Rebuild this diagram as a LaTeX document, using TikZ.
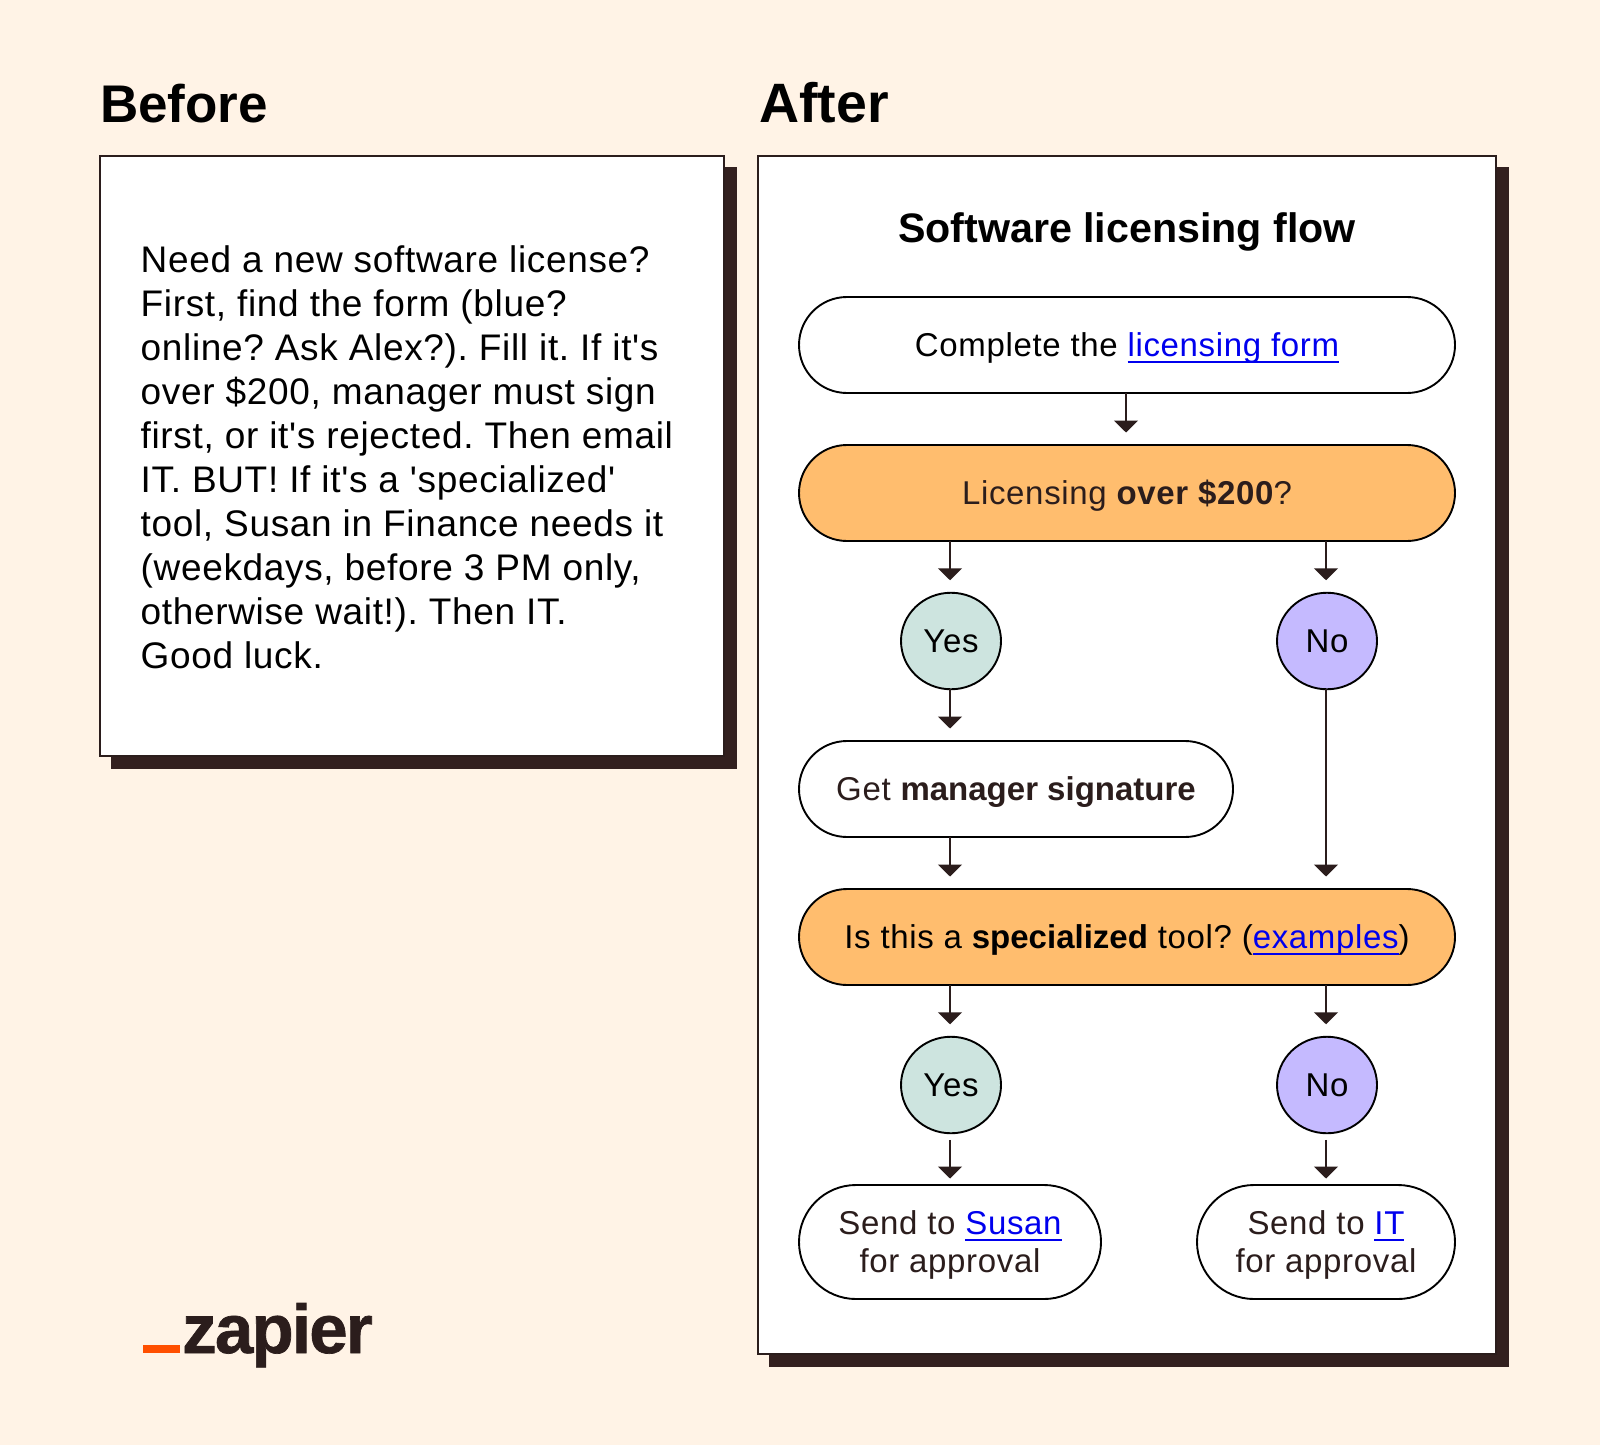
\documentclass[tikz,border=0pt]{standalone}
\usepackage{fontspec}
\setmainfont{Liberation Sans}
\usetikzlibrary{arrows.meta,shapes.misc,shapes.geometric}
\definecolor{bgc}{HTML}{FFF3E6}
\definecolor{ink}{HTML}{2B1D1C}
\definecolor{shadowc}{HTML}{33201F}
\definecolor{orangec}{HTML}{FFBD6E}
\definecolor{greenc}{HTML}{CDE4DF}
\definecolor{purplec}{HTML}{C5BAFF}
\definecolor{logoc}{HTML}{FF4F00}
\definecolor{linkc}{HTML}{0000EE}
\newcommand\lnk[1]{\textcolor{linkc}{\setbox0\hbox{#1}\rlap{\raisebox{-6.5pt}{\rule{\wd0}{1.6pt}}}\box0}}
\newfontfamily\bodyf[LetterSpace=2.0]{Liberation Sans}
\newfontfamily\textf[LetterSpace=1.8]{Liberation Sans}
\newfontfamily\plainf{Liberation Sans}
\newfontfamily\logof[LetterSpace=-2.6,BoldFeatures={FakeBold=1}]{Liberation Sans}
\newcommand\fs[2]{\fontsize{#1}{#2}\selectfont}
\newcommand\bt[1]{{\plainf\bfseries #1}}
\newcommand\dn{\rule{0pt}{30pt}}
\frenchspacing
\tikzset{
  x=1pt,y=-1pt,
  pill/.style={draw=black,line width=1.9pt,rounded rectangle,outer sep=0pt,inner sep=0pt,text=ink,font=\bodyf\frenchspacing\fs{33}{38},align=center},
  whitepill/.style={pill,fill=white},
  orangepill/.style={pill,fill=orangec},
  circ/.style={draw=black,line width=1.9pt,ellipse,outer sep=0pt,inner sep=0pt,minimum width=100pt,minimum height=96.5pt,text=black,font=\bodyf\fs{33}{38}},
  yescirc/.style={circ,fill=greenc},
  nocirc/.style={circ,fill=purplec},
  panel/.style={draw=ink,line width=1.9pt,fill=white,rectangle,outer sep=0pt,inner sep=0pt},
  panelshadow/.style={fill=shadowc,draw=none,rectangle,outer sep=0pt,inner sep=0pt},
  flow/.style={draw=ink,line width=1.9pt,-{Triangle[width=24pt,length=12pt]},shorten >=12.5pt},
  flowgap/.style={flow,shorten >=6.5pt,shorten <=6.5pt},
  heading/.style={anchor=base west,inner sep=0pt,text=black}
}
\begin{document}
\begin{tikzpicture}
\useasboundingbox (0,0) rectangle (1600,1445);
\fill[bgc] (0,0) rectangle (1600,1445);
% headings
\node[heading,font=\fs{53}{60}\bfseries] (hbefore) at (100,122) {Before};
\node[heading,font=\fs{55.5}{60}\bfseries] (hafter) at (759,122) {After};
% panels
\node[panelshadow,minimum width=626pt,minimum height=602pt] (s1) at (424,468) {};
\node[panel,minimum width=624pt,minimum height=600pt] (before) at (412,456) {};
\node[panelshadow,minimum width=740pt,minimum height=1200pt] (s2) at (1139,767) {};
\node[panel,minimum width=738pt,minimum height=1198pt] (after) at (1127,755) {};
% before text
\node[anchor=north west,inner sep=0pt,align=left,font=\textf\frenchspacing\fs{37}{44},text=black] (beforetext) at (140.5,245) {Need a new software license?\\
First, find the form (blue?\\
online? Ask Alex?). Fill it. If it's\\
over \$200, manager must sign\\
first, or it's rejected. Then email\\
IT. BUT! If it's a 'specialized'\\
tool, Susan in Finance needs it\\
(weekdays, before 3 PM only,\\
otherwise wait!). Then IT.\\
Good luck.};
% title
\node[anchor=base,inner sep=0pt,font=\fs{41.2}{46}\bfseries,text=black] (title) at (1127,242) {Software licensing flow};
% flow
\node[whitepill,minimum width=656pt,minimum height=96pt] (form) at (1127,345) {\dn\textcolor{black}{Complete the} \lnk{licensing form}};
\node[orangepill,minimum width=656pt,minimum height=96pt] (q1) at (1127,493) {\dn Licensing {\bfseries over \$200}?};
\node[yescirc] (y1) at (951,641) {Yes};
\node[nocirc] (n1) at (1327,641) {No};
\node[whitepill,minimum width=434pt,minimum height=96pt] (sig) at (1016,789) {\dn Get \bt{manager signature}};
\node[orangepill,minimum width=656pt,minimum height=96pt] (q2) at (1127,937) {\dn\textcolor{black}{Is this a \bt{specialized} tool? (}\lnk{examples}\textcolor{black}{)}};
\node[yescirc] (y2) at (951,1085) {Yes};
\node[nocirc] (n2) at (1327,1085) {No};
\node[whitepill,minimum width=302pt,minimum height=114pt] (susan) at (950,1242) {\dn Send to \lnk{Susan}\\for approval};
\node[whitepill,minimum width=258pt,minimum height=114pt] (it) at (1326,1242) {\dn Send to \lnk{IT}\\for approval};
% connector columns
\coordinate (colm) at (1126,0);
\coordinate (coly) at (950,0);
\coordinate (coln) at (1326,0);
% connectors
\draw[flow] (form.south -| colm) -- (q1.north -| colm);
\draw[flow] (q1.south -| coly) -- (y1.north -| coly);
\draw[flow] (q1.south -| coln) -- (n1.north -| coln);
\draw[flow] (y1.south -| coly) -- (sig.north -| coly);
\draw[flow] (sig.south -| coly) -- (q2.north -| coly);
\draw[flow] (n1.south -| coln) -- (q2.north -| coln);
\draw[flow] (q2.south -| coly) -- (y2.north -| coly);
\draw[flow] (q2.south -| coln) -- (n2.north -| coln);
\draw[flowgap] (y2.south -| coly) -- (susan.north -| coly);
\draw[flowgap] (n2.south -| coln) -- (it.north -| coln);
% logo
\fill[logoc] (143,1345) rectangle (180,1353);
\node[anchor=base west,inner sep=0pt,font=\logof\fs{69}{72}\bfseries,text=ink] (logo) at (182,1353) {zapier};
\end{tikzpicture}
\end{document}
